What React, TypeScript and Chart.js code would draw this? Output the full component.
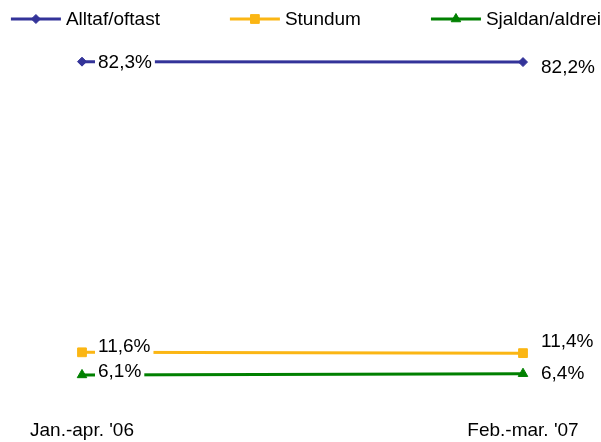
import React, { useEffect, useRef } from "react";
import { Chart, registerables } from "chart.js";
import { drawPoint } from "chart.js/helpers";
Chart.register(...registerables);

const categories = ["Jan.-apr. '06", "Feb.-mar. '07"];
const seriesNames = ["Alltaf/oftast", "Stundum", "Sjaldan/aldrei"];
const alltafOftast = [82.3, 82.2];
const stundum = [11.6, 11.4];
const sjaldanAldrei = [6.1, 6.4];

const colors = ["#333399", "#FBB614", "#008000"];
const pointStyles = ["rectRot", "rect", "triangle"];
const pointRadii = [4.5, 6.2, 5.5];
// label offsets relative to each point [dx, dy]
const labelOffsets = [
  [[16, 0], [18, 5]],
  [[16, -7], [18, -12]],
  [[16, -4], [18, -1]],
];

const FAMILY = "'Liberation Sans', Arial, sans-serif";
const FONT = "19px " + FAMILY;
const fmt = (v: number) => v.toFixed(1).replace(".", ",") + "%";

const labelPlugin = {
  id: "valueLabels",
  afterDatasetsDraw(chart: any) {
    const ctx = chart.ctx;
    ctx.save();
    ctx.font = FONT;
    ctx.textBaseline = "middle";
    ctx.textAlign = "left";
    chart.data.datasets.forEach((ds: any, i: number) => {
      const meta = chart.getDatasetMeta(i);
      meta.data.forEach((el: any, j: number) => {
        const t = fmt(ds.data[j]);
        const [dx, dy] = labelOffsets[i][j];
        const x = el.x + dx;
        const y = el.y + dy;
        const w = ctx.measureText(t).width;
        ctx.fillStyle = "#ffffff";
        ctx.fillRect(x - 3, y - 10, w + 6, 20);
        ctx.fillStyle = "#000000";
        ctx.fillText(t, x, y + 1);
      });
    });
    ctx.restore();
  },
};

const legendPlugin = {
  id: "customLegend",
  afterDraw(chart: any) {
    const ctx = chart.ctx;
    ctx.save();
    ctx.font = FONT;
    ctx.textBaseline = "middle";
    const lineLen = 50;
    const textGap = 5;
    const gap = 70;
    const widths = seriesNames.map((n) => lineLen + textGap + ctx.measureText(n).width);
    const total = widths.reduce((a, b) => a + b, 0) + gap * (widths.length - 1);
    let x = 306 - total / 2;
    const y = 19;
    seriesNames.forEach((n, i) => {
      ctx.strokeStyle = colors[i];
      ctx.lineWidth = 3;
      ctx.beginPath();
      ctx.moveTo(x, y);
      ctx.lineTo(x + lineLen, y);
      ctx.stroke();
      ctx.fillStyle = colors[i];
      ctx.lineWidth = 1;
      drawPoint(ctx, { pointStyle: pointStyles[i], radius: pointRadii[i], rotation: 0, borderWidth: 1 } as any, x + lineLen / 2, y);
      ctx.fillStyle = "#000000";
      ctx.fillText(n, x + lineLen + textGap, y + 1);
      x += widths[i] + gap;
    });
    ctx.restore();
  },
};

export default function App() {
  const ref = useRef<HTMLCanvasElement | null>(null);
  useEffect(() => {
    if (!ref.current) return;
    const seriesData = [alltafOftast, stundum, sjaldanAldrei];
    const chart = new Chart(ref.current, {
      type: "line",
      data: {
        labels: categories,
        datasets: seriesNames.map((name, i) => ({
          label: name,
          data: seriesData[i],
          borderColor: colors[i],
          backgroundColor: colors[i],
          borderWidth: 3,
          pointStyle: pointStyles[i] as any,
          pointRadius: pointRadii[i],
          pointBorderWidth: 1,
          pointBackgroundColor: colors[i],
          pointBorderColor: colors[i],
          tension: 0,
          clip: false as any,
        })),
      },
      options: {
        responsive: false,
        animation: false,
        layout: { padding: { left: 82, right: 78, top: 30, bottom: 0 } },
        plugins: { legend: { display: false }, tooltip: { enabled: false } },
        scales: {
          x: {
            grid: { display: false, drawTicks: false },
            border: { display: false },
            afterFit: (scale: any) => {
              scale.height = 42;
            },
            ticks: {
              color: "#000000",
              padding: 19,
              maxRotation: 0,
              autoSkip: false,
              font: { family: FAMILY, size: 19 },
            },
          },
          y: { display: false, min: 0, max: 90 },
        },
      },
      plugins: [labelPlugin, legendPlugin],
    });
    return () => chart.destroy();
  }, []);
  return (
    <div style={{ position: "absolute", left: 0, top: 0, width: 601, height: 442, background: "#fff" }}>
      <canvas ref={ref} width={601} height={442} />
    </div>
  );
}
